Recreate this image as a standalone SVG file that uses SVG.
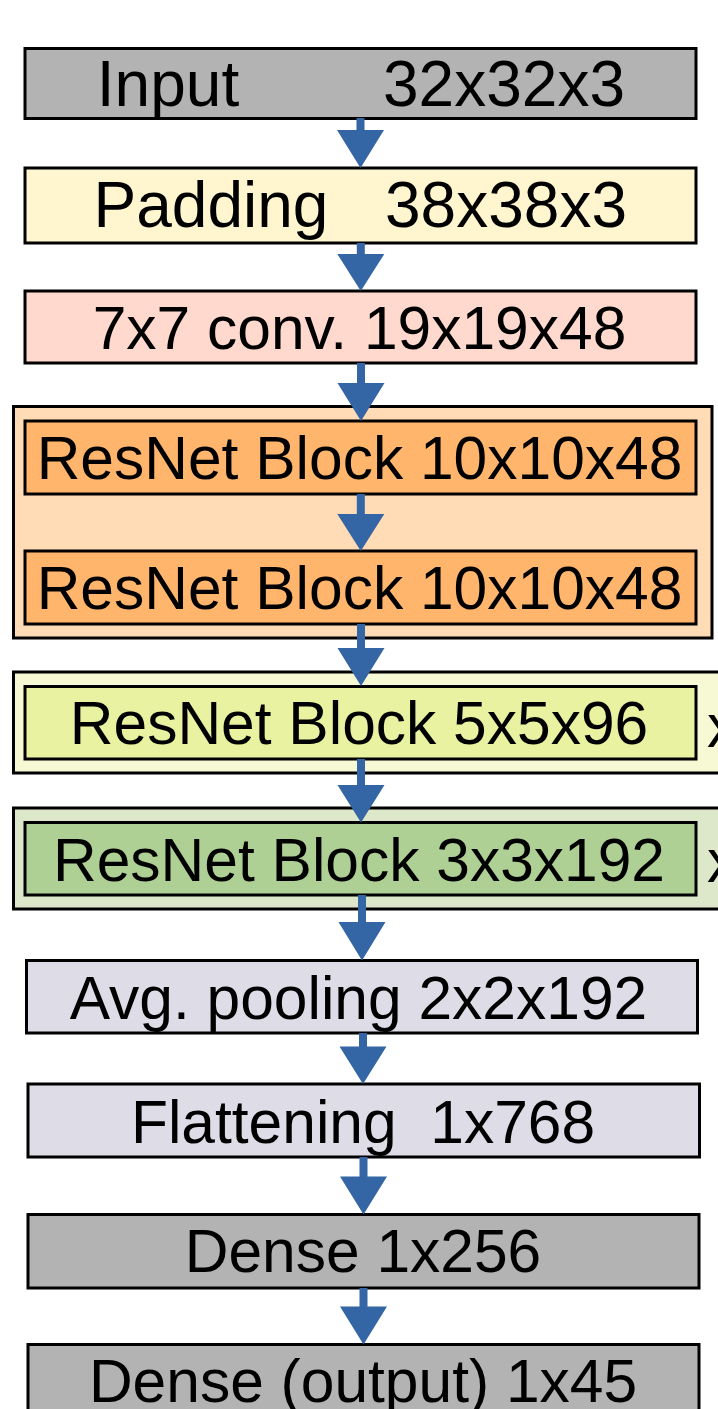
<svg xmlns="http://www.w3.org/2000/svg" width="718" height="1409" viewBox="0 0 718 1409">
<style>
  .box { stroke: #000; stroke-width: 3; }
  .t { font-family: "Liberation Sans", Arial, sans-serif; font-size: 60.5px; fill: #000; text-anchor: middle; }
  .t62 { font-size: 64px; }
  .lx { text-anchor: start; }
  .arrow { fill: #3465a4; }
</style>
<rect width="718" height="1409" fill="#ffffff"/>

<g id="node-input">
  <rect class="box" x="25" y="48.5" width="671" height="70" fill="#b3b3b3"/>
  <text class="t t62" y="105.5"><tspan x="168">Input</tspan><tspan x="504">32x32x3</tspan></text>
</g>
<g id="node-padding">
  <rect class="box" x="25" y="168" width="671" height="75" fill="#fff5ce"/>
  <text class="t t62" y="227"><tspan x="211">Padding</tspan><tspan x="506">38x38x3</tspan></text>
</g>
<g id="node-conv">
  <rect class="box" x="25" y="291" width="671" height="72" fill="#ffd8ce"/>
  <text class="t" x="359.5" y="348.5">7x7 conv. 19x19x48</text>
</g>
<g id="group-resnet48">
  <rect class="box" x="13.5" y="406.5" width="698.5" height="231.5" fill="#ffdbb6"/>
  <g id="node-resnet48a">
    <rect class="box" x="25" y="421" width="671" height="73" fill="#ffb66c"/>
    <text class="t" x="359.5" y="478.5">ResNet Block 10x10x48</text>
  </g>
  <g id="node-resnet48b">
    <rect class="box" x="25" y="551" width="671" height="73" fill="#ffb66c"/>
    <text class="t" x="359.5" y="608.5">ResNet Block 10x10x48</text>
  </g>
</g>
<g id="group-resnet96">
  <rect class="box" x="13.5" y="672" width="720" height="101" fill="#f6f9d4"/>
  <g id="node-resnet96">
    <rect class="box" x="25" y="686.5" width="671" height="72.5" fill="#e8f2a1"/>
    <text class="t" x="359" y="744">ResNet Block 5x5x96</text>
  </g>
  <text class="t lx" x="707" y="747">x</text>
</g>
<g id="group-resnet192">
  <rect class="box" x="13.5" y="808" width="720" height="101" fill="#dde8cb"/>
  <g id="node-resnet192">
    <rect class="box" x="25" y="822.5" width="671" height="72.5" fill="#afd095"/>
    <text class="t" x="359" y="880.5">ResNet Block 3x3x192</text>
  </g>
  <text class="t lx" x="707" y="882">x</text>
</g>
<g id="node-avgpool">
  <rect class="box" x="26.5" y="960.5" width="671" height="72.5" fill="#dedce6"/>
  <text class="t" x="358.5" y="1018.5">Avg. pooling 2x2x192</text>
</g>
<g id="node-flatten">
  <rect class="box" x="28" y="1084" width="671.5" height="73" fill="#dedce6"/>
  <text class="t" x="363" y="1143" xml:space="preserve">Flattening  1x768</text>
</g>
<g id="node-dense">
  <rect class="box" x="28" y="1214.5" width="671" height="73.5" fill="#b3b3b3"/>
  <text class="t" x="363" y="1272">Dense 1x256</text>
</g>
<g id="node-output">
  <rect class="box" x="28" y="1344.5" width="671" height="80" fill="#b3b3b3"/>
  <text class="t" x="363" y="1402">Dense (output) 1x45</text>
</g>

<g id="connectors" class="arrow">
  <path d="M 356.5 118 H 364.5 V 130 H 384 L 360.5 168 L 337 130 H 356.5 Z"/>
  <path d="M 356.8 243 H 364.8 V 254 H 384.3 L 360.8 291 L 337.3 254 H 356.8 Z"/>
  <path d="M 357 363 H 365 V 383 H 384.5 L 361 421 L 337.5 383 H 357 Z"/>
  <path d="M 356.8 494 H 364.8 V 514 H 384.3 L 360.8 551 L 337.3 514 H 356.8 Z"/>
  <path d="M 357 624 H 365 V 648 H 384.5 L 361 686 L 337.5 648 H 357 Z"/>
  <path d="M 357 759 H 365 V 785 H 384.5 L 361 822.5 L 337.5 785 H 357 Z"/>
  <path d="M 358 895 H 366 V 922 H 385.5 L 362 960.5 L 338.5 922 H 358 Z"/>
  <path d="M 359 1033 H 367 V 1046.5 H 386.5 L 363 1084 L 339.5 1046.5 H 359 Z"/>
  <path d="M 359.5 1157 H 367.5 V 1176.5 H 387 L 363.5 1214.5 L 340 1176.5 H 359.5 Z"/>
  <path d="M 359.5 1288 H 367.5 V 1306.5 H 387 L 363.5 1344.5 L 340 1306.5 H 359.5 Z"/>
</g>
</svg>
